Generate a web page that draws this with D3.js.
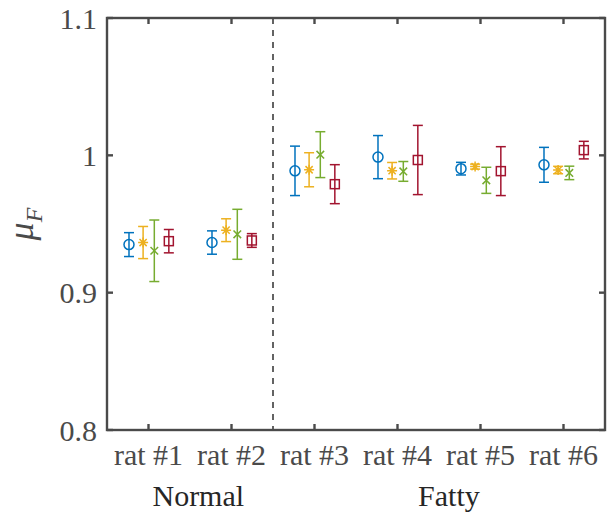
<!DOCTYPE html>
<html><head><meta charset="utf-8">
<script src="https://cdn.jsdelivr.net/npm/d3@7"></script>
<style>body{margin:0;background:#fff}svg{display:block}</style>
</head><body>
<svg id="c" width="609" height="513"></svg>
<script>
const categories = ["rat #1","rat #2","rat #3","rat #4","rat #5","rat #6"];
const groups = [{name:"Normal", pos:1.6},{name:"Fatty", pos:4.62}];
const yTicks = [0.8, 0.9, 1.0, 1.1];
const yTickLabels = ["0.8","0.9","1","1.1"];
const seriesNames = ["s1","s2","s3","s4"];
const seriesMarkers = ["circle","star","cross","square"];
const seriesColors = ["#0072BD","#EDB120","#77AC30","#A2142F"];
const seriesOffsets = [-0.235,-0.065,0.07,0.245];
const meansS1 = [0.935, 0.9365, 0.9887, 0.9987, 0.9903, 0.9931];
const errsS1  = [0.0087, 0.0085, 0.018, 0.0157, 0.0046, 0.0127];
const meansS2 = [0.9365, 0.9455, 0.9895, 0.9888, 0.9918, 0.9893];
const errsS2  = [0.0117, 0.0083, 0.0124, 0.006, 0.0018, 0.0027];
const meansS3 = [0.9305, 0.9425, 1.0005, 0.9883, 0.9818, 0.9872];
const errsS3  = [0.0224, 0.0182, 0.0167, 0.0072, 0.0095, 0.0049];
const meansS4 = [0.9375, 0.938, 0.979, 0.9966, 0.9885, 1.0038];
const errsS4  = [0.0085, 0.005, 0.0142, 0.0252, 0.0178, 0.0064];
const dividerPos = 2.5;

const means = [meansS1, meansS2, meansS3, meansS4];
const errs = [errsS1, errsS2, errsS3, errsS4];

const svg = d3.select("#c");
const L = 107, R = 605, T = 18, B = 430;
const x = d3.scaleLinear().domain([0.5, 6.5]).range([L, R]);
const y = d3.scaleLinear().domain([0.8, 1.1]).range([B, T]);
const axisColor = "#4a4a4a";
const font = "'Liberation Serif','Times New Roman',serif";

// divider
svg.append("line").attr("x1", x(dividerPos)).attr("x2", x(dividerPos))
  .attr("y1", T).attr("y2", B).attr("stroke", "#222").attr("stroke-width", 1.4)
  .attr("stroke-dasharray", "6,6");

// error bars
const cap = 5;
means.forEach((ms, si) => {
  const g = svg.append("g").attr("stroke", seriesColors[si]).attr("fill", "none").attr("stroke-width", 1.5);
  ms.forEach((m, ci) => {
    const cx = x(ci + 1 + seriesOffsets[si]);
    const e = errs[si][ci];
    const y1 = y(m + e), y0 = y(m - e);
    g.append("line").attr("x1", cx).attr("x2", cx).attr("y1", y1).attr("y2", y0);
    g.append("line").attr("x1", cx - cap).attr("x2", cx + cap).attr("y1", y1).attr("y2", y1);
    g.append("line").attr("x1", cx - cap).attr("x2", cx + cap).attr("y1", y0).attr("y2", y0);
    const cy = y(m);
    const mk = seriesMarkers[si];
    if (mk === "circle") {
      g.append("circle").attr("cx", cx).attr("cy", cy).attr("r", 5);
    } else if (mk === "square") {
      g.append("rect").attr("x", cx - 4.5).attr("y", cy - 4.5).attr("width", 9).attr("height", 9);
    } else if (mk === "cross") {
      const s = 3.8;
      g.append("path").attr("d", `M${cx-s},${cy-s}L${cx+s},${cy+s}M${cx-s},${cy+s}L${cx+s},${cy-s}`);
    } else if (mk === "star") {
      const s = 5, d = 3.6;
      g.append("path").attr("d",
        `M${cx-s},${cy}L${cx+s},${cy}M${cx},${cy-s}L${cx},${cy+s}M${cx-d},${cy-d}L${cx+d},${cy+d}M${cx-d},${cy+d}L${cx+d},${cy-d}`);
    }
  });
});

// axes box
const ax = svg.append("g").attr("stroke", axisColor).attr("stroke-width", 2.4).attr("fill", "none");
ax.append("rect").attr("x", L).attr("y", T).attr("width", R - L).attr("height", B - T);
const tl = 6;
categories.forEach((c, i) => {
  const tx = x(i + 1);
  ax.append("line").attr("x1", tx).attr("x2", tx).attr("y1", B).attr("y2", B - tl);
  ax.append("line").attr("x1", tx).attr("x2", tx).attr("y1", T).attr("y2", T + tl);
});
yTicks.forEach(v => {
  ax.append("line").attr("x1", L).attr("x2", L + tl).attr("y1", y(v)).attr("y2", y(v));
  ax.append("line").attr("x1", R).attr("x2", R - tl).attr("y1", y(v)).attr("y2", y(v));
});

// tick labels
svg.append("g").selectAll("text").data(yTicks).join("text")
  .attr("x", L - 10).attr("y", d => y(d)).attr("dy", "0.35em")
  .attr("text-anchor", "end").attr("font-family", font).attr("font-size", 30)
  .attr("fill", axisColor).text((d, i) => yTickLabels[i]);
svg.append("g").selectAll("text").data(categories).join("text")
  .attr("x", (d, i) => x(i + 1)).attr("y", 465)
  .attr("text-anchor", "middle").attr("font-family", font).attr("font-size", 30)
  .attr("fill", axisColor).text(d => d);
svg.append("g").selectAll("text").data(groups).join("text")
  .attr("x", d => x(d.pos)).attr("y", 506)
  .attr("text-anchor", "middle").attr("font-family", font).attr("font-size", 30)
  .attr("fill", "#262626").text(d => d.name);

// y label
const yl = svg.append("text").attr("transform", "translate(33,224) rotate(-90)")
  .attr("text-anchor", "middle").attr("font-family", font).attr("fill", axisColor);
yl.append("tspan").attr("font-style", "italic").attr("font-size", 36).text("μ");
yl.append("tspan").attr("font-style", "italic").attr("font-size", 24).attr("dy", 9).text("F");
</script>
</body></html>
